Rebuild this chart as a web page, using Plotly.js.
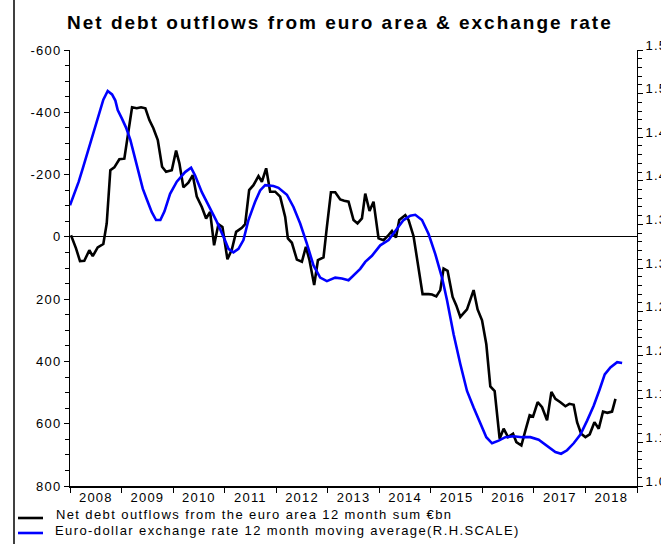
<!DOCTYPE html>
<html>
<head>
<meta charset="utf-8">
<script src="https://cdn.plot.ly/plotly-3.0.1.min.js"></script>
<style>
html,body{margin:0;padding:0;background:#fff;}
#chart{width:661px;height:544px;}
#chart .xtick text, #chart .ytick text, #chart .y2tick text {letter-spacing:1.2px;}
#chart .gtitle {letter-spacing:2px;}
#chart .annotation-text {letter-spacing:1.4px;}
</style>
</head>
<body>
<div id="chart"></div>
<script>
// Positions are months elapsed since 1 January 2008
const startDate = "2008-01-01";

const netDebtMonths = [
  0.23, 1.40, 2.33, 3.33, 4.50, 5.29, 6.45, 7.76, 8.55, 9.39, 10.32, 11.49,
  12.65, 13.44, 14.45, 15.54, 16.54, 17.55, 18.48, 19.41, 20.44, 21.44, 22.37, 23.70,
  24.70, 25.47, 26.40, 27.56, 28.59, 29.52, 30.69, 31.69, 32.62, 33.55, 34.56, 35.49,
  36.65, 37.68, 38.68, 40.01, 40.78, 41.71, 42.71, 43.88, 44.67, 45.67, 46.60, 47.77,
  48.93, 50.10, 50.73, 51.66, 52.82, 53.99, 54.92, 55.76, 56.85, 57.72, 59.02, 59.81,
  60.75, 61.75, 62.91, 63.84, 64.85, 66.01, 66.94, 67.97, 68.74, 69.74, 70.67, 71.84,
  73.00, 73.93, 74.96, 75.89, 76.66, 78.06, 78.83, 79.99, 80.92, 82.09, 83.49, 84.28,
  85.28, 86.21, 86.98, 87.91, 89.08, 89.94, 90.87, 92.43, 93.97, 94.90, 95.93, 96.93,
  97.86, 98.87, 100.03, 100.96, 101.99, 103.15, 103.92, 105.09, 106.02, 107.02, 107.81, 108.88,
  109.91, 111.07, 112.08, 113.01, 114.17, 115.34, 116.27, 117.27, 118.06, 119.0, 120.0, 121.0,
  122.1, 123.1, 124.1, 125.1, 126.2, 127.0
];
const netDebtOutflows = [
  -5, 37, 78, 77, 43, 62, 34, 23, -43, -214, -223, -249,
  -251, -322, -416, -413, -416, -413, -375, -349, -311, -225, -209, -214,
  -277, -236, -159, -174, -198, -129, -96, -59, -80, 27, -41, -32,
  72, 41, -16, -29, -41, -150, -166, -195, -177, -220, -145, -145,
  -129, -64, 5, 19, 73, 80, 32, 75, 155, 75, 66, -32,
  -143, -143, -120, -116, -113, -54, -43, -59, -139, -83, -113, 5,
  11, -2, -19, 2, -54, -70, -54, -2, 75, 184, 184, 185,
  191, 171, 102, 109, 193, 220, 257, 233, 171, 233, 268, 345,
  480, 495, 648, 616, 643, 632, 659, 670, 622, 573, 577, 531,
  547, 589, 498, 520, 531, 544, 536, 539, 595, 632, 643, 634,
  595, 616, 561, 565, 561, 520
];

const euroDollarMonths = [
  0, 1.0, 2.03, 2.96, 3.89, 4.89, 5.9, 6.83, 7.76, 8.78, 9.79, 10.56,
  11.11, 12.12, 13.05, 14.05, 14.98, 16.0, 16.94, 17.94, 19.04, 20.04, 21.04, 22.0,
  23.3, 24.86, 26.8, 28.19, 29.13, 30.69, 32.22, 34.0, 35.72, 36.89, 38.05, 39.22,
  40.38, 41.55, 43.1, 44.27, 45.44, 47.37, 48.54, 50.5, 52.03, 53.59, 55.15, 56.69,
  58.25, 59.81, 61.75, 63.31, 64.85, 66.41, 67.57, 68.74, 70.3, 72.23, 74.17, 76.12,
  77.66, 79.22, 80.39, 81.95, 83.49, 85.05, 86.61, 87.78, 89.31, 90.87, 92.43, 93.97,
  95.53, 96.93, 98.26, 99.8, 101.36, 103.3, 105.25, 107.18, 109.12, 111.07, 113.0, 114.34,
  115.73, 117.27, 118.83, 120.4, 121.93, 123.33, 124.5, 125.82, 127.39, 128.55
];
const euroDollar = [
  1.372, 1.385, 1.399, 1.414, 1.429, 1.445, 1.464, 1.479, 1.493, 1.503, 1.499, 1.492,
  1.481, 1.471, 1.461, 1.447, 1.429, 1.408, 1.391, 1.378, 1.364, 1.355, 1.355, 1.365,
  1.385, 1.399, 1.410, 1.415, 1.406, 1.387, 1.372, 1.355, 1.336, 1.322, 1.318, 1.322,
  1.332, 1.355, 1.376, 1.389, 1.395, 1.394, 1.392, 1.384, 1.370, 1.351, 1.328, 1.303,
  1.289, 1.285, 1.289, 1.288, 1.286, 1.293, 1.299, 1.307, 1.314, 1.326, 1.332, 1.345,
  1.355, 1.360, 1.361, 1.355, 1.339, 1.316, 1.289, 1.263, 1.224, 1.190, 1.159, 1.140,
  1.121, 1.106, 1.099, 1.102, 1.106, 1.107, 1.106, 1.106, 1.103, 1.096, 1.089, 1.087,
  1.091, 1.099, 1.109, 1.125, 1.142, 1.161, 1.178, 1.186, 1.192, 1.191
];

const leftTicks = [-600, -400, -200, 0, 200, 400, 600, 800];
const rightTicks = [1.55, 1.50, 1.45, 1.40, 1.35, 1.30, 1.25, 1.20, 1.15, 1.10, 1.05];

const titleText = "Net debt outflows from euro area & exchange rate";
const name1 = "Net debt outflows from the euro area 12 month sum €bn";
const name2 = "Euro-dollar exchange rate 12 month moving average(R.H.SCALE)";

// convert month offsets into date strings for Plotly's date axis
function toDates(months) {
  const t0 = Date.parse(startDate + "T00:00:00Z");
  const monthMs = 30.436875 * 24 * 3600 * 1000;
  return months.map(m => new Date(t0 + m * monthMs).toISOString().slice(0, 19).replace("T", " "));
}

const FONT = "Liberation Sans, Arial, sans-serif";
const BLACK = "#000000";
const BLUE = "#0000ff";

const traces = [
  {
    x: toDates(netDebtMonths),
    y: netDebtOutflows,
    type: "scatter", mode: "lines",
    name: name1,
    line: {color: BLACK, width: 2.6},
    yaxis: "y"
  },
  {
    x: toDates(euroDollarMonths),
    y: euroDollar,
    type: "scatter", mode: "lines",
    name: name2,
    line: {color: BLUE, width: 2.6},
    yaxis: "y2"
  }
];

// pixel -> paper helpers for the hand-placed legend (plot area 70..637 x 50..486)
const px = v => (v - 70) / 567;
const py = v => (486 - v) / 436;

const layout = {
  width: 661, height: 544,
  margin: {l: 70, r: 24, t: 50, b: 58, autoexpand: false},
  paper_bgcolor: "#fff", plot_bgcolor: "#fff",
  font: {family: FONT, color: "#000", size: 13},
  title: {
    text: "<b>" + titleText + "</b>",
    font: {family: FONT, size: 19, color: "#000"},
    x: 0.476, xref: "paper", xanchor: "center",
    y: 0.958, yref: "container", yanchor: "middle"
  },
  showlegend: false,
  xaxis: {
    type: "date",
    range: ["2008-01-01", "2019-01-01"],
    showgrid: false, zeroline: false, automargin: false,
    showline: true, linecolor: "#000", linewidth: 2,
    ticks: "outside", ticklen: 5, tickcolor: "#000", tickwidth: 1,
    dtick: "M12", tick0: "2008-01-01",
    tickformat: "%Y", ticklabelmode: "period",
    ticklabelstandoff: -7,
    tickfont: {family: FONT, size: 13, color: "#000"}
  },
  yaxis: {
    range: [800, -600], automargin: false,
    showgrid: false,
    zeroline: true, zerolinecolor: "#000", zerolinewidth: 1,
    showline: true, linecolor: "#000", linewidth: 1,
    ticks: "outside", ticklen: 5, tickcolor: "#000",
    tickmode: "array", tickvals: leftTicks, ticktext: leftTicks.map(String),
    minor: {dtick: 50, tick0: 0, ticks: "outside", ticklen: 4, tickcolor: "#000"},
    tickfont: {family: FONT, size: 13, color: "#000"}
  },
  yaxis2: {
    overlaying: "y", side: "right", automargin: false,
    range: [1.05, 1.55],
    showgrid: false, zeroline: false,
    showline: true, linecolor: "#000", linewidth: 1,
    ticks: "outside", ticklen: 5, tickcolor: "#000",
    tickmode: "array", tickvals: rightTicks, ticktext: rightTicks.map(v => v.toFixed(2)),
    ticklabelshift: -5,
    minor: {dtick: 0.01, tick0: 1.05, ticks: "outside", ticklen: 4, tickcolor: "#000"},
    tickfont: {family: FONT, size: 13, color: "#000"}
  },
  shapes: [
    {type: "line", xref: "paper", yref: "paper",
     x0: px(14), x1: px(14), y0: py(544), y1: py(0),
     line: {color: "#000", width: 1.5}},
    // legend samples
    {type: "line", xref: "paper", yref: "paper",
     x0: px(18), x1: px(43), y0: py(518), y1: py(518),
     line: {color: BLACK, width: 2.6}},
    {type: "line", xref: "paper", yref: "paper",
     x0: px(18), x1: px(43), y0: py(533), y1: py(533),
     line: {color: BLUE, width: 2.6}}
  ],
  annotations: [
    // x shifted right by half the extra width that the CSS letter-spacing adds
    {text: name1, xref: "paper", yref: "paper", x: px(52 + 38.5), y: py(514),
     xanchor: "left", yanchor: "middle", showarrow: false,
     font: {family: FONT, size: 13, color: "#000"}},
    {text: name2, xref: "paper", yref: "paper", x: px(52 + 42.7), y: py(530),
     xanchor: "left", yanchor: "middle", showarrow: false,
     font: {family: FONT, size: 13, color: "#000"}}
  ]
};

Plotly.newPlot("chart", traces, layout, {displayModeBar: false, staticPlot: true});
</script>
</body>
</html>
